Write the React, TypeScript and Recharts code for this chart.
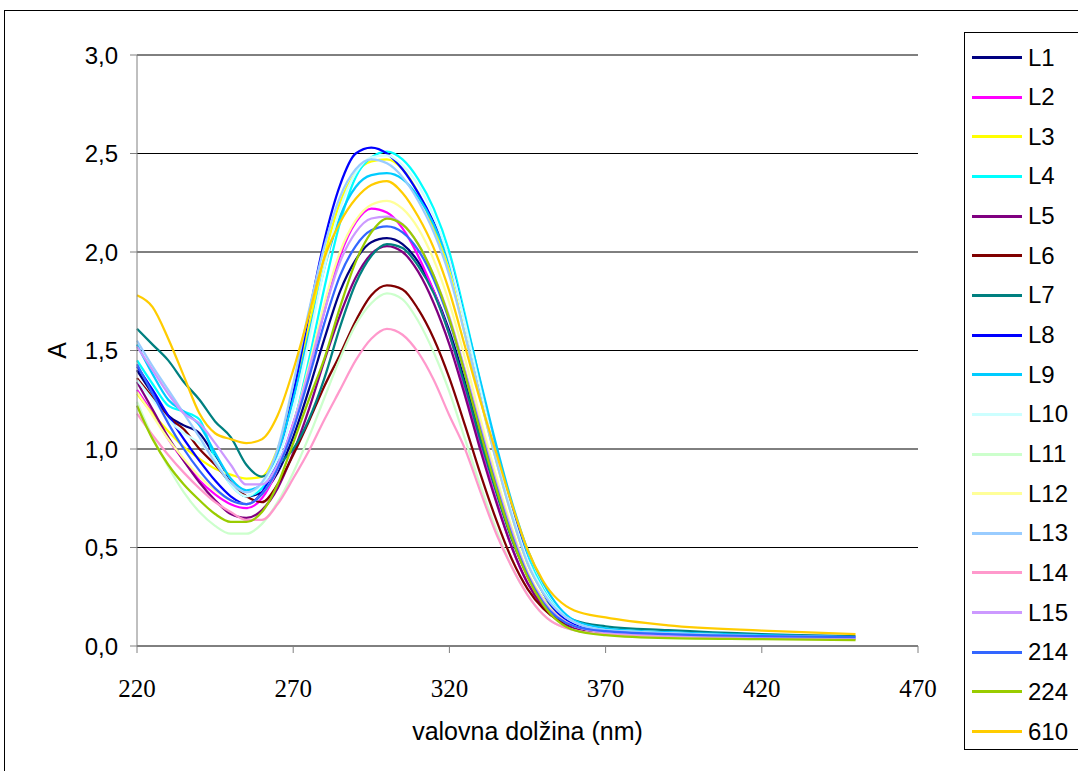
import React from "react";
import { LineChart, Line, XAxis, YAxis, CartesianGrid, Legend } from "recharts";

// wavelength (nm)
const wavelengths = [220, 225, 230, 235, 240, 245, 250, 255, 260, 265, 270, 275, 280, 285, 290, 295, 300, 305, 310, 315, 320, 325, 330, 335, 340, 345, 350, 360, 370, 390, 420, 450];

const L1 = [1.40, 1.28, 1.17, 1.12, 1.08, 0.96, 0.83, 0.76, 0.78, 0.88, 1.06, 1.30, 1.56, 1.80, 1.96, 2.05, 2.07, 2.04, 1.95, 1.80, 1.60, 1.34, 1.06, 0.79, 0.55, 0.36, 0.23, 0.11, 0.075, 0.06, 0.05, 0.04];
const L2 = [1.30, 1.18, 1.05, 0.94, 0.84, 0.77, 0.72, 0.70, 0.75, 0.90, 1.13, 1.40, 1.70, 1.98, 2.15, 2.22, 2.20, 2.12, 1.98, 1.80, 1.58, 1.30, 1.01, 0.74, 0.50, 0.32, 0.20, 0.09, 0.065, 0.055, 0.045, 0.04];
const L3 = [1.28, 1.18, 1.09, 1.01, 0.95, 0.90, 0.87, 0.85, 0.86, 1.00, 1.28, 1.62, 1.98, 2.25, 2.40, 2.46, 2.47, 2.42, 2.30, 2.12, 1.90, 1.58, 1.25, 0.94, 0.66, 0.42, 0.27, 0.11, 0.075, 0.06, 0.05, 0.04];
const L4 = [1.45, 1.33, 1.22, 1.19, 1.15, 0.95, 0.82, 0.76, 0.80, 0.92, 1.12, 1.45, 1.82, 2.15, 2.38, 2.48, 2.51, 2.47, 2.37, 2.22, 2.00, 1.68, 1.33, 1.00, 0.71, 0.46, 0.29, 0.12, 0.085, 0.065, 0.052, 0.045];
const L5 = [1.34, 1.20, 1.06, 0.94, 0.83, 0.74, 0.67, 0.65, 0.69, 0.80, 0.98, 1.20, 1.45, 1.68, 1.87, 1.99, 2.03, 2.00, 1.90, 1.74, 1.53, 1.27, 0.99, 0.73, 0.50, 0.32, 0.20, 0.09, 0.065, 0.055, 0.045, 0.04];
const L6 = [1.36, 1.26, 1.16, 1.10, 1.00, 0.92, 0.83, 0.76, 0.73, 0.82, 0.97, 1.14, 1.32, 1.48, 1.65, 1.78, 1.83, 1.81, 1.71, 1.56, 1.36, 1.12, 0.87, 0.64, 0.44, 0.29, 0.19, 0.10, 0.075, 0.06, 0.05, 0.045];
const L7 = [1.61, 1.53, 1.45, 1.34, 1.25, 1.14, 1.06, 0.92, 0.86, 0.92, 1.00, 1.15, 1.36, 1.62, 1.84, 1.98, 2.04, 2.02, 1.93, 1.79, 1.58, 1.32, 1.04, 0.78, 0.54, 0.36, 0.24, 0.13, 0.10, 0.08, 0.06, 0.05];
const L8 = [1.42, 1.30, 1.17, 1.05, 0.94, 0.84, 0.76, 0.72, 0.78, 0.95, 1.28, 1.68, 2.06, 2.34, 2.50, 2.53, 2.50, 2.42, 2.30, 2.15, 1.96, 1.65, 1.30, 0.98, 0.70, 0.44, 0.27, 0.11, 0.08, 0.065, 0.05, 0.045];
const L9 = [1.53, 1.38, 1.25, 1.19, 1.12, 0.98, 0.85, 0.79, 0.82, 0.98, 1.25, 1.58, 1.92, 2.18, 2.33, 2.39, 2.40, 2.37, 2.28, 2.14, 1.94, 1.66, 1.34, 1.02, 0.73, 0.49, 0.32, 0.13, 0.09, 0.07, 0.055, 0.045];
const L10 = [1.35, 1.25, 1.15, 1.08, 1.03, 0.95, 0.82, 0.76, 0.82, 0.95, 1.20, 1.55, 1.92, 2.22, 2.40, 2.48, 2.49, 2.44, 2.34, 2.18, 1.96, 1.64, 1.30, 0.97, 0.68, 0.44, 0.28, 0.12, 0.08, 0.065, 0.05, 0.045];
const L11 = [1.24, 1.06, 0.91, 0.78, 0.68, 0.61, 0.57, 0.57, 0.62, 0.73, 0.88, 1.06, 1.26, 1.46, 1.63, 1.74, 1.79, 1.76, 1.65, 1.49, 1.29, 1.05, 0.81, 0.59, 0.40, 0.26, 0.16, 0.08, 0.06, 0.05, 0.04, 0.035];
const L12 = [1.29, 1.17, 1.05, 0.95, 0.86, 0.79, 0.74, 0.72, 0.77, 0.90, 1.12, 1.42, 1.74, 2.00, 2.16, 2.24, 2.26, 2.22, 2.12, 1.96, 1.74, 1.46, 1.15, 0.86, 0.60, 0.38, 0.24, 0.10, 0.07, 0.055, 0.045, 0.04];
const L13 = [1.55, 1.42, 1.30, 1.18, 1.06, 0.93, 0.83, 0.78, 0.83, 1.00, 1.33, 1.70, 2.03, 2.28, 2.42, 2.47, 2.45, 2.38, 2.26, 2.10, 1.88, 1.58, 1.25, 0.94, 0.66, 0.42, 0.27, 0.12, 0.08, 0.065, 0.05, 0.045];
const L14 = [1.18, 1.07, 0.97, 0.88, 0.80, 0.73, 0.68, 0.64, 0.64, 0.72, 0.85, 0.99, 1.15, 1.30, 1.45, 1.56, 1.61, 1.58, 1.49, 1.35, 1.17, 1.00, 0.78, 0.57, 0.40, 0.26, 0.16, 0.08, 0.06, 0.05, 0.04, 0.035];
const L15 = [1.52, 1.40, 1.28, 1.18, 1.13, 1.03, 0.92, 0.82, 0.82, 0.92, 1.12, 1.40, 1.70, 1.95, 2.10, 2.17, 2.18, 2.14, 2.04, 1.88, 1.67, 1.40, 1.11, 0.83, 0.58, 0.37, 0.23, 0.10, 0.07, 0.055, 0.045, 0.04];
const s214 = [1.43, 1.28, 1.13, 1.00, 0.89, 0.80, 0.74, 0.72, 0.77, 0.90, 1.10, 1.36, 1.64, 1.88, 2.03, 2.11, 2.13, 2.10, 2.01, 1.86, 1.65, 1.38, 1.09, 0.81, 0.56, 0.36, 0.22, 0.10, 0.075, 0.06, 0.05, 0.045];
const s224 = [1.22, 1.05, 0.92, 0.82, 0.74, 0.67, 0.63, 0.63, 0.68, 0.82, 1.03, 1.25, 1.46, 1.72, 1.95, 2.10, 2.17, 2.14, 2.04, 1.88, 1.66, 1.38, 1.08, 0.80, 0.55, 0.35, 0.21, 0.08, 0.055, 0.04, 0.035, 0.03];
const s610 = [1.78, 1.72, 1.56, 1.37, 1.18, 1.08, 1.05, 1.03, 1.05, 1.17, 1.40, 1.68, 1.97, 2.15, 2.27, 2.34, 2.36, 2.30, 2.18, 2.02, 1.80, 1.52, 1.24, 0.98, 0.72, 0.49, 0.33, 0.18, 0.145, 0.105, 0.078, 0.06];

const series = [
  { key: "L1", name: "L1", color: "#000080", values: L1 },
  { key: "L2", name: "L2", color: "#FF00FF", values: L2 },
  { key: "L3", name: "L3", color: "#FFFF00", values: L3 },
  { key: "L4", name: "L4", color: "#00FFFF", values: L4 },
  { key: "L5", name: "L5", color: "#800080", values: L5 },
  { key: "L6", name: "L6", color: "#800000", values: L6 },
  { key: "L7", name: "L7", color: "#008080", values: L7 },
  { key: "L8", name: "L8", color: "#0000FF", values: L8 },
  { key: "L9", name: "L9", color: "#00CCFF", values: L9 },
  { key: "L10", name: "L10", color: "#CCFFFF", values: L10 },
  { key: "L11", name: "L11", color: "#CCFFCC", values: L11 },
  { key: "L12", name: "L12", color: "#FFFF99", values: L12 },
  { key: "L13", name: "L13", color: "#99CCFF", values: L13 },
  { key: "L14", name: "L14", color: "#FF99CC", values: L14 },
  { key: "L15", name: "L15", color: "#CC99FF", values: L15 },
  { key: "s214", name: "214", color: "#3366FF", values: s214 },
  { key: "s224", name: "224", color: "#99CC00", values: s224 },
  { key: "s610", name: "610", color: "#FFCC00", values: s610 },
];

const xTicks = [220, 270, 320, 370, 420, 470];
const yTicks = [0, 0.5, 1, 1.5, 2, 2.5, 3];

const data = wavelengths.map((nm, i) => {
  const row: Record<string, number> = { nm };
  series.forEach((s) => {
    row[s.key] = s.values[i];
  });
  return row;
});

const sans = "'Liberation Sans', Arial, sans-serif";
const serif = "'Liberation Serif', 'Times New Roman', serif";

function LegendBox() {
  return (
    <div
      style={{
        position: "relative",
        width: 140,
        height: 718,
        border: "1px solid #000",
        boxSizing: "border-box",
        background: "#fff",
        fontFamily: sans,
        fontSize: 24,
      }}
    >
      {series.map((s, i) => (
        <div
          key={s.key}
          style={{ position: "absolute", left: 0, top: 24.5 + i * 39.65 - 15, height: 30, display: "flex", alignItems: "center" }}
        >
          <div style={{ marginLeft: 7, width: 50, height: 3, background: s.color }} />
          <span style={{ marginLeft: 6, color: "#000" }}>{s.name}</span>
        </div>
      ))}
    </div>
  );
}

// x tick labels are in a serif face in the original
function XTick(props: any) {
  const { x, y, payload } = props;
  return (
    <text x={x} y={y + 42} textAnchor="middle" fontFamily={serif} fontSize={25} style={{ fontFamily: serif, fontSize: 25 }} fill="#000">
      {payload.value}
    </text>
  );
}

function YTitle(props: any) {
  const vb = props.viewBox || {};
  const cy = vb.y + vb.height / 2;
  return (
    <text x={57} y={cy} transform={`rotate(-90, 57, ${cy})`} textAnchor="middle" dominantBaseline="central" style={{ fontFamily: sans, fontSize: 25 }} fill="#000">
      A
    </text>
  );
}

export default function App() {
  return (
    <div style={{ position: "absolute", left: 0, top: 0, width: 1078, height: 771, overflow: "hidden", background: "#fff" }}>
      <div style={{ position: "absolute", left: 4, top: 10, width: 1200, height: 900, border: "1px solid #000" }} />
      <LineChart width={1078} height={771} data={data} margin={{ top: 55, right: 160, left: 0, bottom: 0 }}>
        <CartesianGrid vertical={false} stroke="#000" />
        <XAxis
          dataKey="nm"
          type="number"
          domain={[220, 470]}
          ticks={xTicks}
          height={125}
          stroke="#808080"
          tickSize={7}
          tick={<XTick />}
          label={{ value: "valovna dolžina (nm)", position: "insideBottom", offset: 31, style: { fontFamily: sans, fontSize: 25, fill: "#000" } }}
        />
        <YAxis
          type="number"
          domain={[0, 3]}
          ticks={yTicks}
          width={137}
          stroke="#808080"
          tickSize={7}
          tickMargin={12}
          tick={{ fontFamily: sans, fontSize: 24, fill: "#000" }}
          tickFormatter={(v: number) => v.toFixed(1).replace(".", ",")}
          label={<YTitle />}
        />
        <Legend
          layout="horizontal"
          verticalAlign="middle"
          align="center"
          content={() => <LegendBox />}
          wrapperStyle={{ position: "absolute", left: 964, top: 32, width: 140, height: 718 }}
        />
        {series.map((s) => (
          <Line
            key={s.key}
            type="monotone"
            dataKey={s.key}
            name={s.name}
            stroke={s.color}
            strokeWidth={2.25}
            dot={false}
            activeDot={false}
            isAnimationActive={false}
          />
        ))}
      </LineChart>
    </div>
  );
}
